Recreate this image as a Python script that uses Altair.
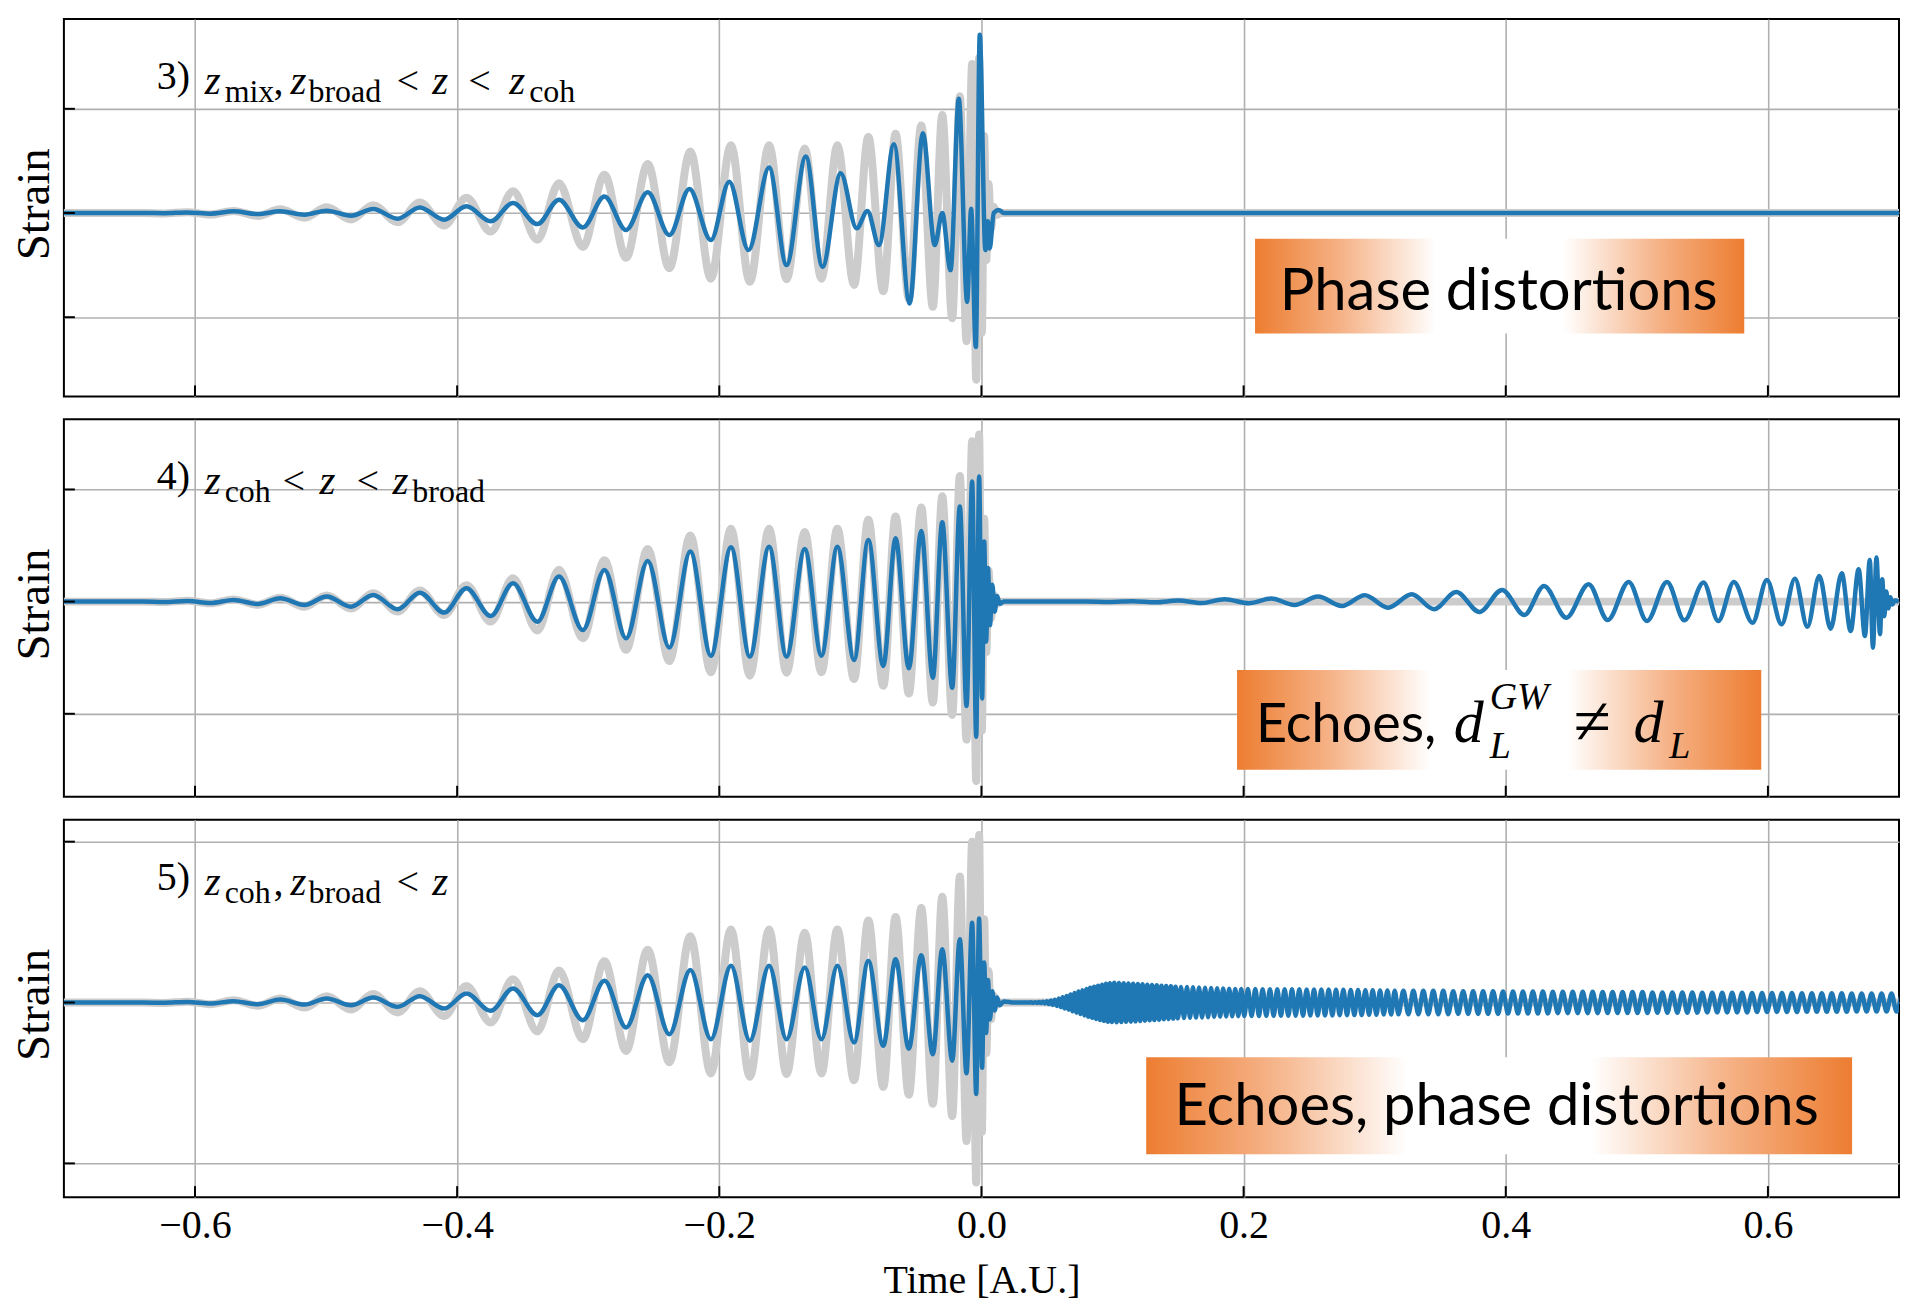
import altair as alt
import pandas as pd

# ------------------------------------------------------------------ data
time_ticks = [-0.6, -0.4, -0.2, 0.0, 0.2, 0.4, 0.6]

# GR reference waveform (grey) - extrema (common strain units)
gr_t = [-0.70, -0.64, -0.6235, -0.6059,
        -0.5883, -0.5706, -0.5520, -0.5350, -0.5165, -0.4995, -0.4810, -0.4640, -0.4454, -0.4285,
        -0.4099, -0.3929, -0.3744, -0.3574, -0.3388, -0.3223, -0.3041, -0.2876, -0.2711, -0.2546,
        -0.2381, -0.2221, -0.2064, -0.1911, -0.1767, -0.1620, -0.1487, -0.1348, -0.1221, -0.1099,
        -0.0972, -0.0863, -0.0749, -0.0655, -0.0554, -0.0459, -0.0371, -0.0299, -0.0223, -0.0165,
        -0.0114, -0.0071, -0.0040, -0.0018,
        0.0003, 0.0021, 0.0037, 0.0054, 0.0072, 0.0092, 0.0115, 0.0150, 0.70]
gr_h = [0.0, 0.0, -0.004, 0.008,
        -0.015, 0.02, -0.028, 0.035, -0.045, 0.055, -0.062, 0.075, -0.088, 0.10,
        -0.12, 0.147, -0.178, 0.208, -0.257, 0.285, -0.326, 0.368, -0.43, 0.47,
        -0.53, 0.59, -0.63, 0.65, -0.66, 0.65, -0.635, 0.62, -0.63, 0.65,
        -0.69, 0.73, -0.75, 0.76, -0.82, 0.84, -0.90, 0.94, -1.01, 1.12,
        -1.23, 1.43, -1.60, 1.49,
        -1.15, 0.74, -0.45, 0.28, -0.15, 0.06, -0.02, 0.0, 0.0]

# Panel 3) modified waveform (blue)
p1_t = [-0.70, -0.64, -0.6235, -0.6059,
        -0.5883, -0.5706, -0.5520, -0.5350, -0.5165, -0.4995, -0.4810, -0.4640, -0.4454, -0.4285,
        -0.4099, -0.3929, -0.3744, -0.3574, -0.3388, -0.3223, -0.3041, -0.2876,
        -0.2711, -0.2546, -0.2381, -0.2228, -0.2064, -0.1924, -0.1777, -0.1620, -0.1487, -0.1340,
        -0.1213, -0.1074, -0.0952, -0.0870, -0.0782, -0.0668, -0.0548, -0.0447, -0.0356, -0.0299,
        -0.0236, -0.0173, -0.0109, -0.0079, -0.0043, -0.0013,
        0.0030, 0.0048, 0.0063, 0.0094, 0.0132, 0.0170, 0.70]
p1_h = [0.0, 0.0, -0.002, 0.005,
        -0.006, 0.016, -0.010, 0.016, -0.016, 0.022, -0.026, 0.038, -0.055, 0.054,
        -0.064, 0.064, -0.080, 0.096, -0.106, 0.128, -0.138, 0.158,
        -0.163, 0.199, -0.212, 0.231, -0.26, 0.301, -0.356, 0.436, -0.50, 0.542,
        -0.516, 0.381, -0.147, 0.019, -0.308, 0.66, -0.869, 0.766, -0.308, 0.0,
        -0.548, 1.096, -0.853, 0.04, -1.285, 1.71,
        -0.356, -0.08, -0.34, 0.0, 0.03, 0.0, 0.0]

# Panel 4) modified waveform (blue): inspiral (same phase as GR), ringdown, echo
p2_pre_h = [0.0, 0.0, -0.003, 0.006,
            -0.012, 0.015, -0.021, 0.03, -0.03, 0.045, -0.045, 0.06, -0.068, 0.08,
            -0.098, 0.12, -0.128, 0.164, -0.179, 0.223, -0.253, 0.283, -0.327, 0.363,
            -0.41, 0.446, -0.482, 0.485, -0.49, 0.49, -0.49, 0.47, -0.482, 0.49,
            -0.52, 0.55, -0.574, 0.565, -0.595, 0.63, -0.678, 0.708, -0.768, 0.848,
            -0.93, 1.07, -1.205, 1.116]
p2_ring_t = [0.0005, 0.0021, 0.0036, 0.0050, 0.0065, 0.0083, 0.0101, 0.0120, 0.0140, 0.0170]
p2_ring_h = [-0.863, 0.536, -0.357, 0.30, -0.21, 0.15, -0.09, 0.05, -0.02, 0.0]
p2_echo_t = [0.080, 0.098, 0.115, 0.133, 0.150, 0.168,
             0.1855, 0.2041, 0.2211, 0.2388, 0.2568, 0.2749, 0.2925, 0.3102, 0.3283, 0.3452,
             0.3622, 0.3799, 0.3972, 0.4142, 0.4292, 0.4462, 0.4632, 0.4778, 0.4938, 0.5077,
             0.5230, 0.5363, 0.5509, 0.5621, 0.5740, 0.5883, 0.5992, 0.6104, 0.6206, 0.6301,
             0.6392, 0.6478, 0.6563, 0.6631, 0.6692, 0.6740, 0.6777, 0.6801, 0.6828,
             0.6855, 0.6872, 0.6888, 0.6903, 0.6918, 0.6934, 0.6950, 0.6968, 0.7000]
p2_echo_h = [0.0, -0.003, 0.004, -0.006, 0.009, -0.013,
             0.021, -0.015, 0.027, -0.03, 0.045, -0.039, 0.057, -0.054, 0.065, -0.068,
             0.086, -0.092, 0.104, -0.119, 0.14, -0.143, 0.155, -0.164, 0.176, -0.173,
             0.176, -0.167, 0.17, -0.173, 0.176, -0.188, 0.193, -0.202, 0.205, -0.223,
             0.229, -0.241, 0.253, -0.262, 0.289, -0.307, 0.372, -0.411, 0.393,
             -0.29, 0.20, -0.13, 0.09, -0.06, 0.04, -0.025, 0.01, 0.0]

# Panel 5) modified waveform (blue): inspiral, ringdown, long post-merger oscillation
p3_pre_h = [0.0, 0.0, -0.002, 0.005,
            -0.009, 0.012, -0.015, 0.027, -0.018, 0.036, -0.024, 0.044, -0.038, 0.056,
            -0.053, 0.08, -0.074, 0.124, -0.112, 0.154, -0.157, 0.194, -0.222, 0.243,
            -0.281, 0.29, -0.326, 0.326, -0.34, 0.326, -0.326, 0.311, -0.326, 0.326,
            -0.355, 0.37, -0.385, 0.385, -0.41, 0.42, -0.46, 0.474, -0.518, 0.562,
            -0.628, 0.71, -0.814, 0.746]
p3_ring_t = [0.0005, 0.0021, 0.0036, 0.0050, 0.0065, 0.0083, 0.0101, 0.0120, 0.0140, 0.0170, 0.0250, 0.0365]
p3_ring_h = [-0.58, 0.355, -0.27, 0.20, -0.15, 0.10, -0.07, 0.045, -0.025, 0.01, 0.0, 0.0]
# extrema of the post-merger oscillation (alternating crest / trough), and their size
tail_t = [0.0380, 0.0395, 0.0410, 0.0425, 0.0440, 0.0455, 0.0470, 0.0485, 0.0500, 0.0515,
          0.0530, 0.0545, 0.0560, 0.0575, 0.0590, 0.0605, 0.0620, 0.0635, 0.0650, 0.0665,
          0.0680, 0.0695, 0.0710, 0.0725, 0.0740, 0.0755, 0.0770, 0.0785, 0.0800, 0.0815,
          0.0830, 0.0845, 0.0860, 0.0875, 0.0890, 0.0905, 0.0920, 0.0935, 0.0950, 0.0965,
          0.0980, 0.0995,
          0.1013, 0.1031, 0.1049, 0.1067, 0.1085, 0.1103, 0.1121, 0.1139, 0.1157, 0.1175,
          0.1193, 0.1211, 0.1229, 0.1247, 0.1265, 0.1283, 0.1301, 0.1319, 0.1337, 0.1355,
          0.1373, 0.1391, 0.1409, 0.1427, 0.1445, 0.1463, 0.1481, 0.1499,
          0.1522, 0.1545, 0.1568, 0.1591, 0.1614, 0.1637, 0.1660, 0.1683, 0.1706, 0.1729,
          0.1752, 0.1775, 0.1798, 0.1821, 0.1844, 0.1867, 0.1890, 0.1913, 0.1936, 0.1959,
          0.1982, 0.2005,
          0.2033, 0.2061, 0.2089, 0.2117, 0.2145, 0.2173, 0.2201, 0.2229, 0.2257, 0.2285,
          0.2313, 0.2341, 0.2369, 0.2397, 0.2425, 0.2453, 0.2481, 0.2509, 0.2537, 0.2565,
          0.2593, 0.2621, 0.2649, 0.2677, 0.2705, 0.2733, 0.2761, 0.2789, 0.2817, 0.2845,
          0.2873, 0.2901, 0.2929, 0.2957, 0.2985, 0.3013, 0.3041, 0.3069, 0.3097, 0.3125,
          0.3153, 0.3181,
          0.3219, 0.3257, 0.3295, 0.3333, 0.3371, 0.3409, 0.3447, 0.3485, 0.3523, 0.3561,
          0.3599, 0.3637, 0.3675, 0.3713, 0.3751, 0.3789, 0.3827, 0.3865, 0.3903, 0.3941,
          0.3979, 0.4017, 0.4055, 0.4093, 0.4131, 0.4169, 0.4207, 0.4245, 0.4283, 0.4321,
          0.4359, 0.4397, 0.4435, 0.4473, 0.4511, 0.4549, 0.4587, 0.4625, 0.4663, 0.4701,
          0.4739, 0.4777, 0.4815, 0.4853, 0.4891, 0.4929, 0.4967, 0.5005, 0.5043, 0.5081,
          0.5119, 0.5157, 0.5195, 0.5233, 0.5271, 0.5309, 0.5347, 0.5385, 0.5423, 0.5461,
          0.5499, 0.5537, 0.5575, 0.5613, 0.5651, 0.5689, 0.5727, 0.5765, 0.5803, 0.5841,
          0.5879, 0.5917, 0.5955, 0.5993, 0.6031, 0.6069, 0.6107, 0.6145, 0.6183, 0.6221,
          0.6259, 0.6297, 0.6335, 0.6373, 0.6411, 0.6449, 0.6487, 0.6525, 0.6563, 0.6601,
          0.6639, 0.6677, 0.6715, 0.6753, 0.6791, 0.6829, 0.6867, 0.6905, 0.6943, 0.6981,
          0.7019]
tail_a = [0.002, 0.002, 0.003, 0.003, 0.004, 0.005, 0.006, 0.008, 0.011, 0.014,
          0.017, 0.021, 0.025, 0.030, 0.035, 0.040, 0.046, 0.052, 0.058, 0.064,
          0.072, 0.078, 0.084, 0.090, 0.097, 0.103, 0.110, 0.115, 0.120, 0.126,
          0.131, 0.136, 0.141, 0.146, 0.150, 0.155, 0.159, 0.163, 0.167, 0.170,
          0.172, 0.174,
          0.175, 0.175, 0.174, 0.173, 0.172, 0.171, 0.170, 0.169, 0.168, 0.167,
          0.165, 0.164, 0.162, 0.161, 0.159, 0.158, 0.156, 0.155, 0.153, 0.152,
          0.150, 0.149, 0.147, 0.146, 0.144, 0.143, 0.141, 0.140,
          0.139, 0.138, 0.137, 0.136, 0.135, 0.134, 0.133, 0.132, 0.131, 0.130,
          0.129, 0.128, 0.127, 0.126, 0.125, 0.124, 0.123, 0.122, 0.121, 0.121,
          0.120, 0.120,
          0.120, 0.120, 0.120, 0.120, 0.119, 0.119, 0.119, 0.119, 0.118, 0.118,
          0.118, 0.118, 0.117, 0.117, 0.117, 0.117, 0.116, 0.116, 0.116, 0.116,
          0.115, 0.115, 0.115, 0.115, 0.113, 0.113, 0.113, 0.113, 0.111, 0.111,
          0.111, 0.111, 0.109, 0.109, 0.109, 0.109, 0.107, 0.107, 0.107, 0.107,
          0.105, 0.105,
          0.104, 0.104, 0.104, 0.104, 0.104, 0.104, 0.104, 0.104, 0.104, 0.104,
          0.101, 0.101, 0.101, 0.101, 0.101, 0.101, 0.101, 0.101, 0.101, 0.101,
          0.098, 0.098, 0.098, 0.098, 0.098, 0.098, 0.098, 0.098, 0.098, 0.098,
          0.095, 0.095, 0.095, 0.095, 0.095, 0.095, 0.095, 0.095, 0.095, 0.095,
          0.093, 0.093, 0.093, 0.093, 0.093, 0.093, 0.093, 0.093, 0.093, 0.093,
          0.090, 0.090, 0.090, 0.090, 0.090, 0.090, 0.090, 0.090, 0.090, 0.090,
          0.088, 0.088, 0.088, 0.088, 0.088, 0.088, 0.088, 0.088, 0.088, 0.088,
          0.085, 0.085, 0.085, 0.085, 0.085, 0.085, 0.085, 0.085, 0.085, 0.085,
          0.082, 0.082, 0.082, 0.082, 0.082, 0.082, 0.082, 0.082, 0.082, 0.082,
          0.080, 0.080, 0.080, 0.080, 0.080, 0.080, 0.080, 0.080, 0.080, 0.080,
          0.078]

# ------------------------------------------------------------------ build tables
n_pre = 48
p2_t = gr_t[:n_pre] + p2_ring_t + p2_echo_t
p2_h = p2_pre_h + p2_ring_h + p2_echo_h
tail_h = [a if i % 2 == 0 else -a for i, a in enumerate(tail_a)]
p3_t = gr_t[:n_pre] + p3_ring_t + tail_t
p3_h = p3_pre_h + p3_ring_h + tail_h

W, H = 1838, 378
SERIF = "Liberation Serif"
SANS = "Lato"
GRID = "#b0b0b0"
ONE = pd.DataFrame({"k": [0]})

ORANGE_FADE = alt.Gradient(
    gradient="linear", x1=0, x2=1, y1=0, y2=0,
    stops=[alt.GradientStop(color="#ED7D31", offset=0),
           alt.GradientStop(color="#F5B083", offset=0.17),
           alt.GradientStop(color="#FFFFFF", offset=0.37),
           alt.GradientStop(color="#FFFFFF", offset=0.63),
           alt.GradientStop(color="#F5B083", offset=0.83),
           alt.GradientStop(color="#ED7D31", offset=1)])


def txt(s, x, y, size, font=SERIF, style="normal", align="left"):
    return alt.Chart(ONE).mark_text(
        text=s, font=font, fontSize=size, fontStyle=style, align=align,
        baseline="alphabetic", color="black").encode(x=alt.value(x), y=alt.value(y))


def math_label(pieces):
    out = []
    for s, x, kind in pieces:
        if kind == "num":
            out.append(txt(s, x, 70, 40))
        elif kind == "var":
            out.append(txt(s, x, 75, 41, style="italic"))
        elif kind == "sub":
            out.append(txt(s, x, 83, 32))
        else:
            out.append(txt(s, x, 75, 40))
    return out


def panel(bt, bh, ydom, yticks, pieces, box, box_texts, bottom):
    xs = alt.Scale(domain=[-0.7, 0.7], nice=False, zero=False)
    ys = alt.Scale(domain=ydom, nice=False, zero=False)
    xkw = dict(values=time_ticks, grid=True, gridColor=GRID, gridWidth=1.6,
               ticks=False, tickSize=0, domain=False, format=".1f")
    if bottom:
        xkw.update(labels=True, labelFont=SERIF, labelFontSize=40, labelPadding=8,
                   labelColor="black", title="Time [A.U.]", titleFont=SERIF,
                   titleFontSize=40, titleFontWeight="normal", titlePadding=16,
                   titleColor="black")
    else:
        xkw.update(labels=False, title=None)
    xaxis = alt.Axis(**xkw)
    yaxis = alt.Axis(values=yticks, grid=True, gridColor=GRID, gridWidth=1.6,
                     ticks=False, tickSize=0, domain=False, labels=False,
                     title="Strain", titleFont=SERIF, titleFontSize=47,
                     titleFontWeight="normal", titleColor="black",
                     titleAngle=270, titleX=-29, titleY=H / 2 - 4,
                     titleBaseline="middle", titleAlign="center")

    def enc(ch):
        return ch.encode(x=alt.X("t:Q", scale=xs, axis=xaxis),
                         y=alt.Y("h:Q", scale=ys, axis=yaxis))

    grey = enc(alt.Chart(pd.DataFrame({"t": gr_t, "h": gr_h})).mark_line(
        color="#cccccc", strokeWidth=8, interpolate="monotone", clip=True,
        strokeJoin="round", strokeCap="round"))
    blue = enc(alt.Chart(pd.DataFrame({"t": bt, "h": bh})).mark_line(
        color="#1f77b4", strokeWidth=4.5, interpolate="monotone", clip=True,
        strokeJoin="round"))

    bx0, bx1, by0, by1 = box
    rect = alt.Chart(ONE).mark_rect(color=ORANGE_FADE).encode(
        x=alt.value(bx0), x2=alt.value(bx1), y=alt.value(by0), y2=alt.value(by1))

    xt = alt.Chart(pd.DataFrame({"t": time_ticks})).mark_rule(
        color="black", strokeWidth=2).encode(
        x=alt.X("t:Q", scale=xs, axis=xaxis), y=alt.value(H - 11), y2=alt.value(H))
    yt = alt.Chart(pd.DataFrame({"h": yticks})).mark_rule(
        color="black", strokeWidth=2).encode(
        y=alt.Y("h:Q", scale=ys, axis=yaxis), x=alt.value(0), x2=alt.value(11))

    layers = [grey, blue, rect] + box_texts + math_label(pieces) + [xt, yt]
    return alt.layer(*layers).properties(width=W, height=H)


p1 = panel(p1_t, p1_h, [-1.76, 1.862], [-1, 0, 1],
           [("3)", 93, "num"), ("z", 141, "var"), ("mix", 161, "sub"), (",", 210, "op"),
            ("z", 227, "var"), ("broad", 245, "sub"), ("<", 333, "op"), ("z", 369, "var"),
            ("<", 405, "op"), ("z", 446, "var"), ("coh", 466, "sub")],
           (1193, 1683, 220, 315),
           [txt("Phase distortions", 1437, 291, 58, font=SANS, align="center")],
           False)

p2 = panel(p2_t, p2_h, [-1.74, 1.625], [-1, 0, 1],
           [("4)", 93, "num"), ("z", 141, "var"), ("coh", 161, "sub"), ("<", 219, "op"),
            ("z", 256, "var"), ("<", 293, "op"), ("z", 329, "var"), ("broad", 349, "sub")],
           (1175, 1700, 251, 351),
           [txt("Echoes,", 1194, 323, 54, font=SANS),
            txt("d", 1392, 323, 60, font=SERIF, style="italic"),
            txt("L", 1428, 339, 38, font=SERIF, style="italic"),
            txt("GW", 1428, 290, 38, font=SERIF, style="italic"),
            txt("\u2260", 1512, 325, 68, font=SERIF),
            txt("d", 1572, 323, 60, font=SERIF, style="italic"),
            txt("L", 1608, 339, 38, font=SERIF, style="italic")],
           False)

p3 = panel(p3_t, p3_h, [-1.73, 1.625], [-1.43, 0, 1.43],
           [("5)", 93, "num"), ("z", 141, "var"), ("coh", 161, "sub"), (",", 210, "op"),
            ("z", 227, "var"), ("broad", 245, "sub"), ("<", 333, "op"), ("z", 369, "var")],
           (1084, 1791, 238, 335),
           [txt("Echoes, phase distortions", 1435, 306, 58, font=SANS, align="center")],
           True)

chart = alt.vconcat(p1, p2, p3, spacing=20).properties(
    padding={"left": 10, "top": 17, "right": 5, "bottom": 0},
    background="white",
).configure_view(stroke="black", strokeWidth=2)

chart.save("out.html", embed_options={"renderer": "svg", "actions": False})
